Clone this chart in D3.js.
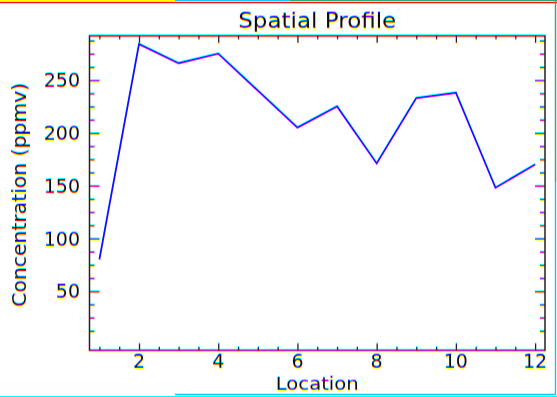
<!DOCTYPE html>
<html>
<head>
<meta charset="utf-8">
<script src="https://cdn.jsdelivr.net/npm/d3@7"></script>
<style>
  html, body { margin: 0; padding: 0; background: #fff; }
  svg { display: block; }
  text { font-family: "DejaVu Sans", sans-serif; fill: #111; }
</style>
</head>
<body>
<svg id="chart" width="557" height="397"></svg>
<script>
// Profile samples: concentration (ppmv) at each location
const locations = [1, 2, 3, 4, 5, 6, 7, 8, 9, 10, 11, 12];
const concentration = [80, 284, 266, 275, 240, 205, 225, 171, 233, 238, 148, 170];

// Axis ticks
const xMajor = [2, 4, 6, 8, 10, 12];
const xMinor = [1, 1.5, 2.5, 3, 3.5, 4.5, 5, 5.5, 6.5, 7, 7.5, 8.5, 9, 9.5, 10.5, 11, 11.5];
const yMajor = [50, 100, 150, 200, 250];
const yMinor = [12.5, 25, 37.5, 62.5, 75, 87.5, 112.5, 125, 137.5, 162.5, 175, 187.5,
                212.5, 225, 237.5, 262.5, 275, 287.5];

const titleText = "Spatial Profile";
const xTitle = "Location";
const yTitle = "Concentration (ppmv)";

const svg = d3.select("#chart");
const W = 557, H = 397;
const L = 89.5, R = 545, T = 36, B = 350.5;

const x = d3.scaleLinear().domain([0.75, 12.25]).range([L, R]);
const y = d3.scaleLinear().domain([-6, 292]).range([B, T]);

// Channel-offset filter: red shifted up, blue shifted down (colour fringing)
const defs = svg.append("defs");
const f = defs.append("filter").attr("id", "fringe")
  .attr("x", 0).attr("y", 0).attr("width", W).attr("height", H)
  .attr("filterUnits", "userSpaceOnUse");
f.append("feOffset").attr("in", "SourceGraphic").attr("dy", -1).attr("result", "up");
f.append("feOffset").attr("in", "SourceGraphic").attr("dy", 1).attr("result", "down");
f.append("feColorMatrix").attr("in", "up").attr("type", "matrix")
  .attr("values", "1 0 0 0 0  0 0 0 0 0  0 0 0 0 0  0 0 0 1 0").attr("result", "rc");
f.append("feColorMatrix").attr("in", "SourceGraphic").attr("type", "matrix")
  .attr("values", "0 0 0 0 0  0 1 0 0 0  0 0 0 0 0  0 0 0 1 0").attr("result", "gc");
f.append("feColorMatrix").attr("in", "down").attr("type", "matrix")
  .attr("values", "0 0 0 0 0  0 0 0 0 0  0 0 1 0 0  0 0 0 1 0").attr("result", "bc");
f.append("feComposite").attr("in", "rc").attr("in2", "gc")
  .attr("operator", "arithmetic").attr("k2", 1).attr("k3", 1).attr("result", "rg");
f.append("feComposite").attr("in", "rg").attr("in2", "bc")
  .attr("operator", "arithmetic").attr("k2", 1).attr("k3", 1);

const g = svg.append("g").attr("filter", "url(#fringe)");
g.append("rect").attr("width", W).attr("height", H).attr("fill", "#fff");

// Axes drawn with inward ticks on all four sides
function styleAxis(sel) {
  sel.select(".domain").remove();
  sel.selectAll("line").attr("stroke", "#222").attr("stroke-width", 1.3);
}
g.append("g").attr("transform", `translate(0,${B})`)
  .call(d3.axisBottom(x).tickValues(xMajor).tickSize(-7).tickFormat(""))
  .call(styleAxis);
g.append("g").attr("transform", `translate(0,${B})`)
  .call(d3.axisBottom(x).tickValues(xMinor).tickSize(-3.5).tickFormat(""))
  .call(styleAxis);
g.append("g").attr("transform", `translate(0,${T})`)
  .call(d3.axisTop(x).tickValues(xMajor).tickSize(-7).tickFormat(""))
  .call(styleAxis);
g.append("g").attr("transform", `translate(0,${T})`)
  .call(d3.axisTop(x).tickValues(xMinor).tickSize(-3.5).tickFormat(""))
  .call(styleAxis);
g.append("g").attr("transform", `translate(${L},0)`)
  .call(d3.axisLeft(y).tickValues(yMajor).tickSize(-10).tickFormat(""))
  .call(styleAxis);
g.append("g").attr("transform", `translate(${L},0)`)
  .call(d3.axisLeft(y).tickValues(yMinor).tickSize(-5).tickFormat(""))
  .call(styleAxis);
g.append("g").attr("transform", `translate(${R},0)`)
  .call(d3.axisRight(y).tickValues(yMajor).tickSize(-10).tickFormat(""))
  .call(styleAxis);
g.append("g").attr("transform", `translate(${R},0)`)
  .call(d3.axisRight(y).tickValues(yMinor).tickSize(-5).tickFormat(""))
  .call(styleAxis);

// Frame
g.append("rect").attr("x", L).attr("y", T).attr("width", R - L).attr("height", B - T)
  .attr("fill", "none").attr("stroke", "#222").attr("stroke-width", 1.5);

// Tick labels
g.append("g").selectAll("text").data(xMajor).join("text")
  .attr("x", d => x(d)).attr("y", 368)
  .attr("text-anchor", "middle").attr("font-size", 19)
  .text(d => d);
g.append("g").selectAll("text").data(yMajor).join("text")
  .attr("x", 80).attr("y", d => y(d) + 7)
  .attr("text-anchor", "end").attr("font-size", 19)
  .text(d => d);

// Titles
g.append("text").attr("x", (L + R) / 2).attr("y", 28)
  .attr("text-anchor", "middle").attr("font-size", 21)
  .attr("textLength", 158).attr("lengthAdjust", "spacingAndGlyphs")
  .text(titleText);
g.append("text").attr("x", (L + R) / 2).attr("y", 389.5)
  .attr("text-anchor", "middle").attr("font-size", 17.5)
  .attr("textLength", 83).attr("lengthAdjust", "spacingAndGlyphs")
  .text(xTitle);
g.append("text").attr("transform", "translate(26,195) rotate(-90)")
  .attr("text-anchor", "middle").attr("font-size", 20)
  .attr("textLength", 224).attr("lengthAdjust", "spacingAndGlyphs")
  .text(yTitle);

// Profile line
const line = d3.line().x((d, i) => x(locations[i])).y(d => y(d));
g.append("path").datum(concentration)
  .attr("d", line)
  .attr("fill", "none").attr("stroke", "#1010ff").attr("stroke-width", 1.8)
  .attr("stroke-linejoin", "miter");

// Window edges around the plot
const edge = svg.append("g");
edge.append("line").attr("x1", 0).attr("x2", W).attr("y1", 2.5).attr("y2", 2.5)
  .attr("stroke", "#ff1010").attr("stroke-width", 1.5);
edge.append("line").attr("x1", 175).attr("x2", 290).attr("y1", 0.5).attr("y2", 0.5)
  .attr("stroke", "#10c8f0").attr("stroke-width", 1.2);
edge.append("line").attr("x1", 290).attr("x2", W).attr("y1", 0.5).attr("y2", 0.5)
  .attr("stroke", "#30a878").attr("stroke-width", 1.2);
edge.append("line").attr("x1", 555.5).attr("x2", 555.5).attr("y1", 0).attr("y2", 182)
  .attr("stroke", "#30a878").attr("stroke-width", 1.4);
edge.append("line").attr("x1", 555.5).attr("x2", 555.5).attr("y1", 182).attr("y2", 394.5)
  .attr("stroke", "#10c8f0").attr("stroke-width", 1.4);
edge.append("line").attr("x1", 175).attr("x2", 556).attr("y1", 394.5).attr("y2", 394.5)
  .attr("stroke", "#10c8f0").attr("stroke-width", 1.4);
</script>
</body>
</html>
